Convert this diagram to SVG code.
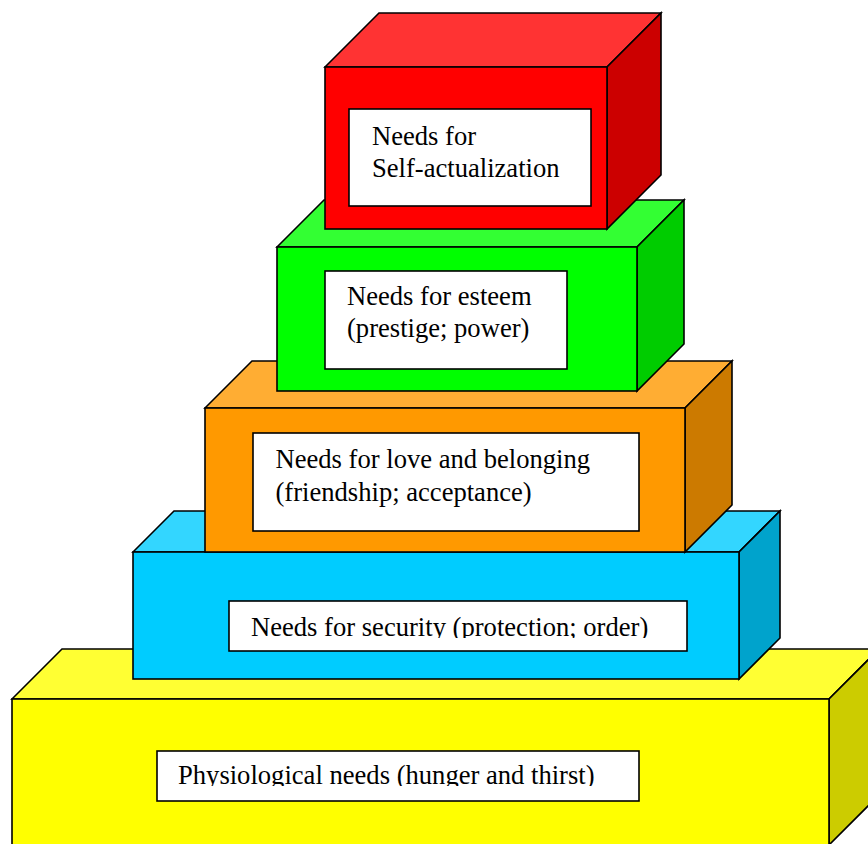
<svg xmlns="http://www.w3.org/2000/svg" width="868" height="844" viewBox="0 0 868 844">
  <style>
    .e { stroke: #000; stroke-width: 1.6; stroke-linejoin: miter; }
    .lbl { fill: #fff; stroke: #000; stroke-width: 1.6; }
    .t { font-family: "Liberation Serif", "Times New Roman", serif; font-size: 26.6px; fill: #000; }
  </style>
  <defs>
    <clipPath id="clipBlue"><rect x="229" y="601" width="458" height="37"/></clipPath>
    <clipPath id="clipYellow"><rect x="157" y="751" width="482" height="35"/></clipPath>
  </defs>
  <rect width="868" height="844" fill="#fff"/>

  <g id="physiological">
    <polygon class="e" fill="#FFFF33" points="12,699 62,649 879,649 829,699"/>
    <polygon class="e" fill="#CCCC00" points="829,699 879,649 879,795 829,845"/>
    <rect class="e" fill="#FFFF00" x="12" y="699" width="817" height="146"/>
    <rect class="lbl" x="157" y="751" width="482" height="50"/>
    <text class="t" x="178" y="784" clip-path="url(#clipYellow)">Physiological needs (hunger and thirst)</text>
  </g>

  <g id="security">
    <polygon class="e" fill="#33D6FF" points="133,552 174,511 780,511 739,552"/>
    <polygon class="e" fill="#00A3CC" points="739,552 780,511 780,638 739,679"/>
    <rect class="e" fill="#00CCFF" x="133" y="552" width="606" height="127"/>
    <rect class="lbl" x="229" y="601" width="458" height="50"/>
    <text class="t" x="251" y="635.5" clip-path="url(#clipBlue)">Needs for security (protection; order)</text>
  </g>

  <g id="love">
    <polygon class="e" fill="#FFAD33" points="205,408 252,361 732,361 685,408"/>
    <polygon class="e" fill="#CC7A00" points="685,408 732,361 732,505 685,552"/>
    <rect class="e" fill="#FF9900" x="205" y="408" width="480" height="144"/>
    <rect class="lbl" x="253" y="433" width="386" height="98"/>
    <text class="t" x="275.5" y="468.3">Needs for love and belonging</text>
    <text class="t" x="275.5" y="500.7">(friendship; acceptance)</text>
  </g>

  <g id="esteem">
    <polygon class="e" fill="#33FF33" points="277,247 324,200 684,200 637,247"/>
    <polygon class="e" fill="#00CC00" points="637,247 684,200 684,344 637,391"/>
    <rect class="e" fill="#00FF00" x="277" y="247" width="360" height="144"/>
    <rect class="lbl" x="325" y="271" width="242" height="98"/>
    <text class="t" x="347" y="305">Needs for esteem</text>
    <text class="t" x="347" y="336.7">(prestige; power)</text>
  </g>

  <g id="self-actualization">
    <polygon class="e" fill="#FF3333" points="325,67 379,13 661,13 607,67"/>
    <polygon class="e" fill="#CC0000" points="607,67 661,13 661,175 607,229"/>
    <rect class="e" fill="#FF0000" x="325" y="67" width="282" height="162"/>
    <rect class="lbl" x="349" y="109" width="242" height="97"/>
    <text class="t" x="372" y="144.5">Needs for</text>
    <text class="t" x="372" y="176.5">Self-actualization</text>
  </g>
</svg>
